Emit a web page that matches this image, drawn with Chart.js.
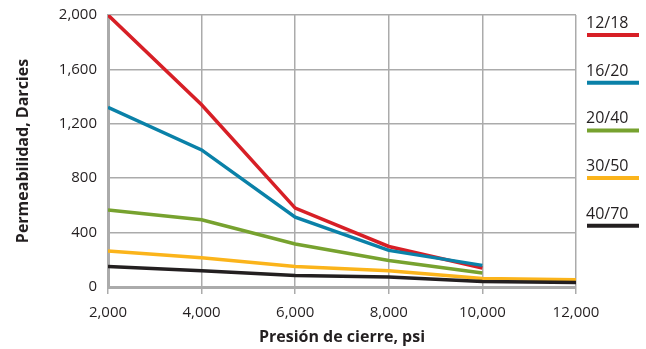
<!DOCTYPE html>
<html>
<head>
<meta charset="utf-8">
<script src="https://cdn.jsdelivr.net/npm/chart.js@4/dist/chart.umd.min.js"></script>
<style>
  html, body { margin: 0; padding: 0; background: #fff; }
  #wrap { width: 646px; height: 349px; }
</style>
</head>
<body>
<div id="wrap"><canvas id="myChart"></canvas></div>
<script>
// presion de cierre (psi)
var pressures = [2000, 4000, 6000, 8000, 10000, 12000];
var meshLabels = ["12/18", "16/20", "20/40", "30/50", "40/70"];
var meshColors = ["#d71f26", "#0a81a8", "#77a22f", "#fbb41b", "#231f20"];

// permeabilidad (Darcies), null = sin dato
var perm1218 = [2000, 1340, 580, 298, 140, null];
var perm1620 = [1321, 1008, 514, 269, 159, null];
var perm2040 = [567, 494, 316, 195, 103, null];
var perm3050 = [264, 215, 151, 120, 63, 54];
var perm4070 = [151, 120, 85, 73, 41, 34];

var yTicks = [0, 400, 800, 1200, 1600, 2000];
var seriesValues = [perm1218, perm1620, perm2040, perm3050, perm4070];

var gridColor = "#ababab";
var textColor = "#231f20";
var font = "'Open Sans', sans-serif";

var datasets = [];
for (var i = 0; i < meshLabels.length; i++) {
  var pts = [];
  for (var j = 0; j < pressures.length; j++) {
    if (seriesValues[i][j] !== null) {
      pts.push({ x: pressures[j], y: seriesValues[i][j] });
    }
  }
  datasets.push({
    label: meshLabels[i],
    data: pts,
    borderColor: meshColors[i],
    backgroundColor: meshColors[i],
    borderWidth: 3.5,
    pointRadius: 0,
    tension: 0,
    fill: false
  });
}
// draw back-to-front like the picture (red on top)
datasets.reverse();

// custom legend on the right: label above a thick line
var sideLegend = {
  id: "sideLegend",
  afterDraw: function(chart) {
    var ctx = chart.ctx;
    ctx.save();
    for (var i = 0; i < meshLabels.length; i++) {
      var y = 35 + i * 47.7;
      ctx.fillStyle = textColor;
      ctx.font = "16px " + font;
      ctx.textAlign = "left";
      ctx.textBaseline = "alphabetic";
      ctx.fillText(meshLabels[i], 586, y - 7);
      ctx.strokeStyle = meshColors[i];
      ctx.lineWidth = 4;
      ctx.beginPath();
      ctx.moveTo(587, y);
      ctx.lineTo(639, y);
      ctx.stroke();
    }
    ctx.restore();
  }
};

new Chart(document.getElementById("myChart"), {
  type: "line",
  data: { datasets: datasets },
  options: {
    responsive: true,
    maintainAspectRatio: false,
    animation: false,
    layout: { padding: { top: 15, right: 70, left: 0, bottom: 0 } },
    plugins: {
      legend: { display: false },
      tooltip: { enabled: false }
    },
    scales: {
      x: {
        type: "linear",
        min: 2000,
        max: 12000,
        afterFit: function(scale) {
          scale.height = 62;
          scale.paddingLeft = 0;
          scale.paddingRight = 0;
        },
        afterBuildTicks: function(scale) {
          scale.ticks = pressures.map(function(v) { return { value: v }; });
        },
        ticks: {
          color: textColor,
          font: { family: font, size: 15 },
          padding: 10,
          maxRotation: 0,
          callback: function(v) { return v.toLocaleString("en-US"); }
        },
        grid: { color: gridColor, lineWidth: 1.5, tickLength: 7, tickColor: gridColor },
        border: { color: gridColor, width: 3 },
        title: {
          display: true,
          text: "Presión de cierre, psi",
          color: textColor,
          font: { family: font, size: 16, weight: "bold" },
          padding: { top: 2, bottom: 2 }
        }
      },
      y: {
        min: 0,
        max: 2000,
        afterFit: function(scale) {
          scale.width = 108;
          scale.paddingTop = 0;
          scale.paddingBottom = 0;
        },
        afterBuildTicks: function(scale) {
          scale.ticks = yTicks.map(function(v) { return { value: v }; });
        },
        ticks: {
          color: textColor,
          font: { family: font, size: 15 },
          padding: 11,
          callback: function(v) { return v.toLocaleString("en-US"); }
        },
        grid: { color: gridColor, lineWidth: 1.5, drawTicks: false },
        border: { color: gridColor, width: 3 },
        title: {
          display: true,
          text: "Permeabilidad, Darcies",
          color: textColor,
          font: { family: font, size: 16, weight: "bold" },
          padding: { top: 14, bottom: 0 }
        }
      }
    }
  },
  plugins: [sideLegend]
});
</script>
</body>
</html>
